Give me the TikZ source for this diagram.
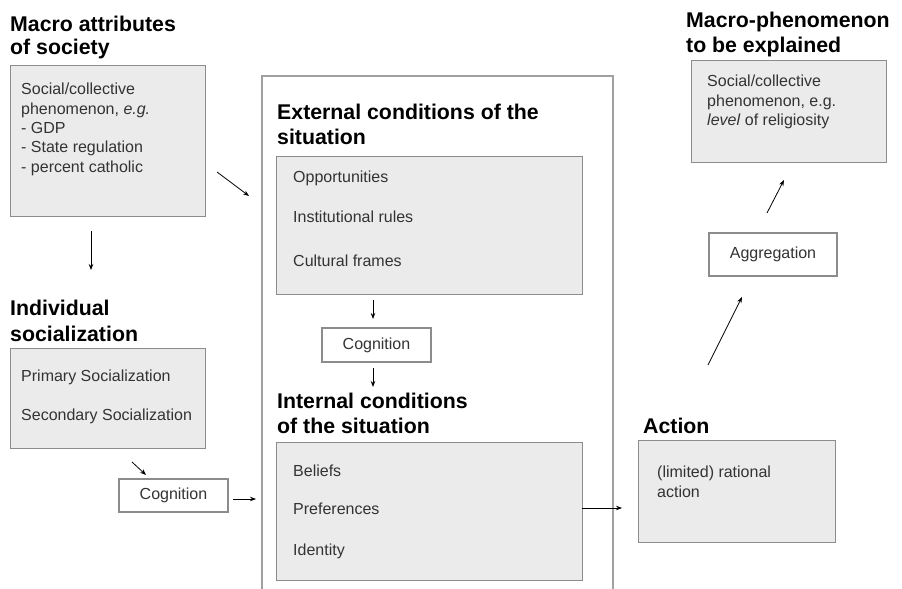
\documentclass[tikz,border=0pt]{standalone}
\usepackage{fontspec}
\setmainfont{Liberation Sans}
\usetikzlibrary{arrows.meta}
\definecolor{boxfill}{HTML}{EBEBEB}
\definecolor{boxline}{HTML}{8C8C8C}
\definecolor{frameline}{HTML}{A0A0A0}
\definecolor{bodytext}{HTML}{333333}
\begin{document}
\begin{tikzpicture}[x=1bp,y=-1bp,
  title/.style={font=\fontsize{21.3bp}{25bp}\selectfont\bfseries, anchor=base west, inner sep=0pt, text=black},
  body/.style={font=\fontsize{16bp}{19.5bp}\selectfont, anchor=base west, inner sep=0pt, text=bodytext},
  greybox/.style={draw=boxline, fill=boxfill, line width=1.2bp, anchor=north west, inner sep=0pt},
  whitebox/.style={draw=boxline, fill=white, line width=1.2bp, inner sep=0pt, text=bodytext,
    font=\fontsize{16bp}{19.5bp}\selectfont},
  arr/.style={-{Stealth[length=6bp,width=4.5bp]}, line width=0.8bp, black}]
\useasboundingbox (0,0) rectangle (902,589);

% big frame (open at the bottom)
\draw[frameline, line width=1.3bp] (262,589) -- (262,76) -- (613,76) -- (613,589);

% Macro attributes of society
\node[title] (t1a) at (10,32) {Macro attributes};
\node[title] (t1b) at (10,55) {of society};
\node[greybox, minimum width=195bp, minimum height=151bp] (macro) at (10,65) {};
\node[body] (m1) at (21,95) {Social/collective};
\node[body] (m2) at (21,115) {phenomenon, \textit{e.g.}};
\node[body] (m3) at (21,134) {- GDP};
\node[body] (m4) at (21,153) {- State regulation};
\node[body] (m5) at (21,173) {- percent catholic};

% Individual socialization
\node[title] (t2a) at (10,315) {Individual};
\node[title] (t2b) at (10,341) {socialization};
\node[greybox, minimum width=195bp, minimum height=100bp] (indiv) at (10,348) {};
\node[body] (i1) at (21,381) {Primary Socialization};
\node[body] (i2) at (21,420) {Secondary Socialization};

\node[whitebox, minimum width=109bp, minimum height=33bp] (cogL) at (173.5,495.5) {Cognition};

% External conditions
\node[title] (t3a) at (277,120) {External conditions of the};
\node[title] (t3b) at (277,145) {situation};
\node[greybox, minimum width=306bp, minimum height=138bp] (ext) at (276,156) {};
\node[body] (e1) at (293,183) {Opportunities};
\node[body] (e2) at (293,223) {Institutional rules};
\node[body] (e3) at (293,267) {Cultural frames};

\node[whitebox, minimum width=109bp, minimum height=34bp] (cogM) at (376.5,345) {Cognition};

% Internal conditions
\node[title] (t4a) at (277,408) {Internal conditions};
\node[title] (t4b) at (277,433) {of the situation};
\node[greybox, minimum width=306bp, minimum height=138bp] (int) at (276,442) {};
\node[body] (n1) at (293,476) {Beliefs};
\node[body] (n2) at (293,514) {Preferences};
\node[body] (n3) at (293,555) {Identity};

% Action
\node[title] (t5) at (643,433) {Action};
\node[greybox, minimum width=197bp, minimum height=102bp] (act) at (638,440) {};
\node[body] (c1) at (657,477) {(limited) rational};
\node[body] (c2) at (657,497) {action};

% Aggregation
\node[whitebox, minimum width=128bp, minimum height=43bp] (agg) at (773,254.5) {Aggregation};

% Macro-phenomenon
\node[title] (t6a) at (686,28) {Macro-phenomenon};
\node[title] (t6b) at (686,53) {to be explained};
\node[greybox, minimum width=195bp, minimum height=102bp] (mp) at (691,60) {};
\node[body] (p1) at (707,87) {Social/collective};
\node[body] (p2) at (707,107) {phenomenon, e.g.};
\node[body] (p3) at (707,126) {\textit{level} of religiosity};

% connector end points
\coordinate (a1s) at (217,172); \coordinate (a1e) at (249,196);
\coordinate (a2s) at (91,231);  \coordinate (a2e) at (91,270);
\coordinate (a3s) at (132,462); \coordinate (a3e) at (146,475);
\coordinate (a4s) at (233,499); \coordinate (a4e) at (256,499);
\coordinate (a5s) at (373,300); \coordinate (a5e) at (373,319);
\coordinate (a6s) at (373,368); \coordinate (a6e) at (373,387);
\coordinate (a7s) at (582,508); \coordinate (a7e) at (622,508);
\coordinate (a8s) at (708,365); \coordinate (a8e) at (742,297);
\coordinate (a9s) at (767,213); \coordinate (a9e) at (784,180);

\draw[arr] (a1s) -- (a1e);
\draw[arr] (a2s) -- (a2e);
\draw[arr] (a3s) -- (a3e);
\draw[arr] (a4s) -- (a4e);
\draw[arr] (a5s) -- (a5e);
\draw[arr] (a6s) -- (a6e);
\draw[arr] (a7s) -- (a7e);
\draw[arr] (a8s) -- (a8e);
\draw[arr] (a9s) -- (a9e);
\end{tikzpicture}
\end{document}
